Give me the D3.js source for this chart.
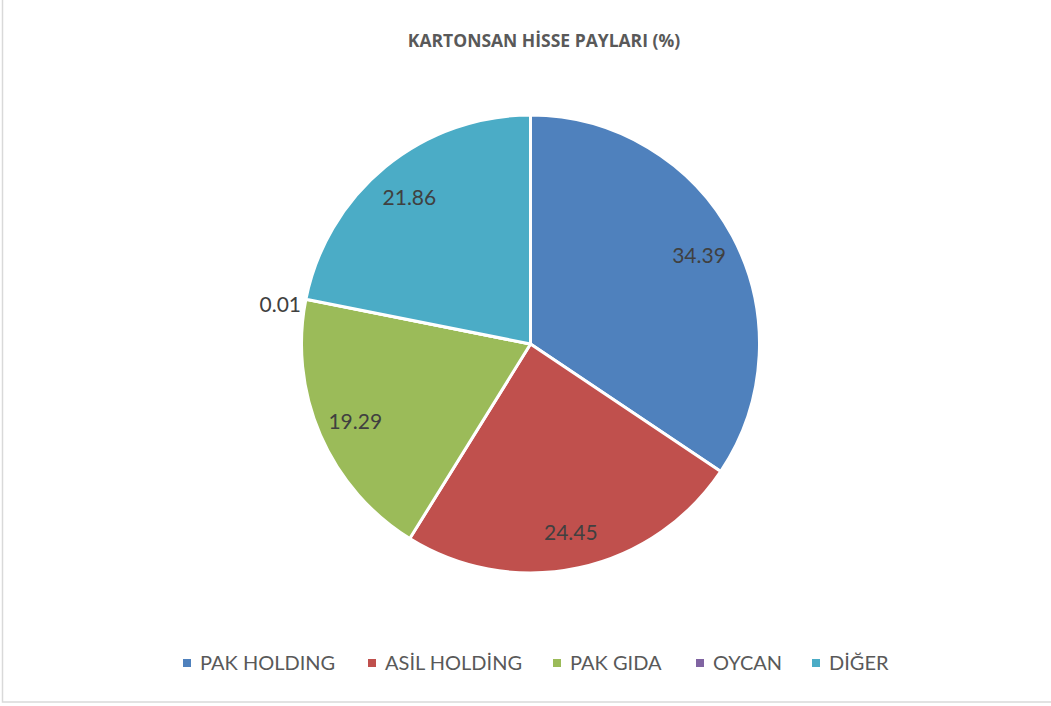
<!DOCTYPE html>
<html>
<head>
<meta charset="utf-8">
<script src="https://cdn.jsdelivr.net/npm/d3@7"></script>
<style>
  body { margin: 0; background: #fff; }
  text { font-family: Lato, "Open Sans", sans-serif; }
</style>
</head>
<body>
<div id="chart"></div>
<script>
var names = ['PAK HOLDING', 'ASİL HOLDİNG', 'PAK GIDA', 'OYCAN', 'DİĞER']
var shares = [34.39, 24.45, 19.29, 0.01, 21.86]
var colors = ['#4F81BD', '#C0504D', '#9BBB59', '#8064A2', '#4BACC6']
var legendX = [187, 372, 557, 700, 816]

var width = 1051,
    height = 706,
    cx = 530.5, cy = 344, r = 229

var svg = d3.select('#chart')
  .append('svg')
    .attr('width', width)
    .attr('height', height)

svg.append('rect')
    .attr('x', 2.5).attr('y', -5)
    .attr('width', width).attr('height', 707)
    .attr('fill', 'none')
    .attr('stroke', '#d9d9d9')
    .attr('stroke-width', 1.5)

svg.append('text')
    .attr('x', 544).attr('y', 47)
    .attr('text-anchor', 'middle')
    .style('font-family', '"Open Sans", sans-serif')
    .attr('font-size', 17.5)
    .attr('font-weight', 'bold')
    .attr('fill', '#595959')
    .text('KARTONSAN HİSSE PAYLARI (%)')

var data = names.map(function(n, i){ return {name: n, value: shares[i], color: colors[i]} })

var pie = d3.pie().sort(null).value(function(d){ return d.value })
var arc = d3.arc().innerRadius(0).outerRadius(r)
var labelArc = d3.arc().innerRadius(191).outerRadius(191)

var g = svg.append('g').attr('transform', 'translate(' + cx + ',' + cy + ')')
var arcs = pie(data)

g.selectAll('path')
  .data(arcs)
  .enter().append('path')
    .attr('d', arc)
    .attr('fill', function(d){ return d.data.color })
    .attr('stroke', '#fff')
    .attr('stroke-width', 3)
    .attr('stroke-linejoin', 'round')

g.selectAll('text.lbl')
  .data(arcs)
  .enter().append('text')
    .attr('class', 'lbl')
    .attr('transform', function(d){
      if (d.data.value < 1) {
        var a = (d.startAngle + d.endAngle) / 2
        return 'translate(' + ((r + 5) * Math.sin(a)) + ',' + (-(r - 40) * Math.cos(a) - 4) + ')'
      }
      return 'translate(' + labelArc.centroid(d) + ')'
    })
    .attr('text-anchor', function(d){ return d.data.value < 1 ? 'end' : 'middle' })
    .attr('dy', '0.42em')
    .attr('font-size', 21)
    .attr('fill', '#404040')
    .text(function(d){ return d3.format('.2f')(d.data.value) })

var leg = svg.selectAll('g.leg')
  .data(data)
  .enter().append('g')
    .attr('class', 'leg')
    .attr('transform', function(d, i){ return 'translate(' + legendX[i] + ',663)' })

leg.append('rect')
    .attr('x', -4).attr('y', -4)
    .attr('width', 8).attr('height', 8)
    .attr('fill', function(d){ return d.color })

leg.append('text')
    .attr('x', 13).attr('dy', '0.35em')
    .attr('font-size', 20)
    .attr('fill', '#595959')
    .text(function(d){ return d.name })
</script>
</body>
</html>
